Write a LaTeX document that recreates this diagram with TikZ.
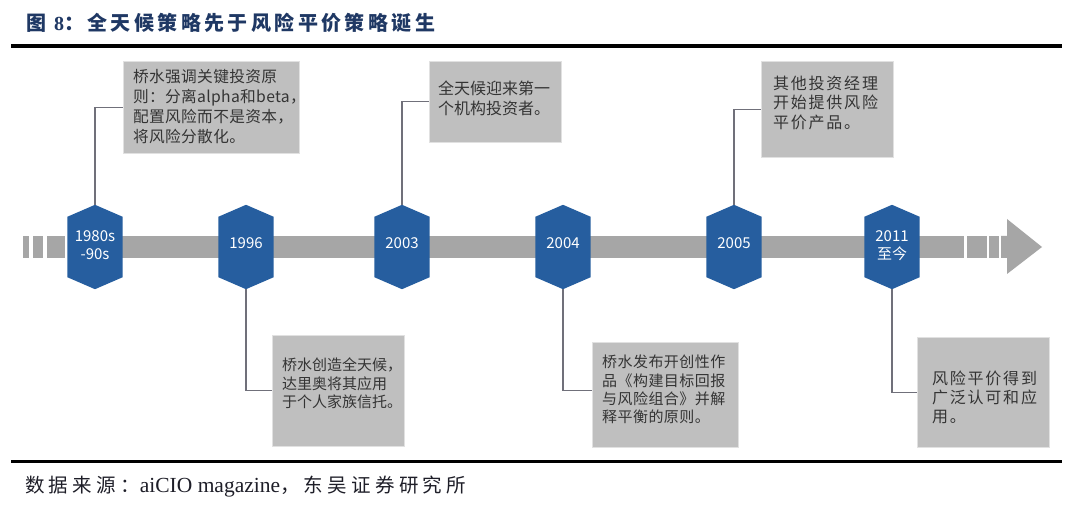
\documentclass[tikz,border=0pt]{standalone}
\usepackage{fontspec}
\setmainfont{Liberation Serif}
\newfontfamily\cjk{Noto Sans CJK SC}
\usetikzlibrary{calc}
\pgfdeclarelayer{bg}
\pgfsetlayers{bg,main}
\definecolor{titleblue}{RGB}{31,56,100}
\definecolor{hexblue}{RGB}{38,94,159}
\definecolor{bargray}{RGB}{166,166,166}
\definecolor{boxgray}{RGB}{191,191,191}
\definecolor{boxedge}{RGB}{225,225,225}
\definecolor{conngray}{RGB}{112,112,122}
\definecolor{txtgray}{RGB}{52,52,52}
\definecolor{srcgray}{RGB}{30,30,40}
\begin{document}
\begin{tikzpicture}[x=1pt,y=-1pt,
  hexnode/.style={rectangle,inner sep=0pt,minimum width=55pt,minimum height=84pt,
    text=white,align=center,font=\cjk\fontsize{15}{17.5}\selectfont},
  hexone/.style={hexnode,text height=11pt,text depth=8pt},
  hextwo/.style={hexnode,text height=30pt,text depth=5pt},
  infobox/.style={rectangle,fill=boxgray,draw=boxedge,line width=0.8pt,anchor=north west,inner sep=0pt},
  infotext/.style={anchor=north west,inner sep=0pt,align=left,text=txtgray},
  conn/.style={draw=conngray,line width=1.1pt}]
\useasboundingbox (0,0) rectangle (1080,510);

% title and rules
\node[anchor=west,inner sep=0pt,text=titleblue] (title) at (26,23)
  {\cjk\bfseries\fontsize{20}{22}\selectfont\addfontfeature{LetterSpace=17}图 {\rmfamily\bfseries 8}：全天候策略先于风险平价策略诞生};
\draw[line width=3.5pt] (11,46) -- (1062,46);
\draw[line width=3pt] (11,461.5) -- (1062,461.5);
\node[anchor=west,inner sep=0pt,text=srcgray] (src) at (25,487)
  {\cjk\fontsize{19.5}{22}\selectfont\addfontfeature{LetterSpace=22}数据来源：{\rmfamily\fontsize{21.5}{22}\selectfont aiCIO magazine}，东吴证券研究所};

% hexagon nodes
\node[hextwo] (h1) at (95,247) {1980s\\-90s};
\node[hexone] (h2) at (246,247) {1996};
\node[hexone] (h3) at (402,247) {2003};
\node[hexone] (h4) at (563,247) {2004};
\node[hexone] (h5) at (734,247) {2005};
\node[hextwo] (h6) at (892,247) {2011\\至今};

\begin{pgfonlayer}{bg}
  \fill[white] (0,0) rectangle (1080,510);
  \fill[bargray] (23,236) rectangle (29,258);
  \fill[bargray] (33,236) rectangle (43,258);
  \fill[bargray] (47,236) rectangle (65,258);
  \fill[bargray] (70,236) rectangle (964,258);
  \fill[bargray] (967,236) rectangle (987,258);
  \fill[bargray] (989,236) rectangle (999,258);
  \fill[bargray] (1001,236) -- (1007,236) -- (1007,219) -- (1042,247) -- (1007,274)
    -- (1007,258) -- (1001,258) -- cycle;
  \foreach \h in {h1,h2,h3,h4,h5,h6}
    \fill[hexblue] (\h.north) -- ([yshift=-12pt]\h.north east) -- ([yshift=12pt]\h.south east)
      -- (\h.south) -- ([yshift=12pt]\h.south west) -- ([yshift=-12pt]\h.north west) -- cycle;
\end{pgfonlayer}

% boxes
\node[infobox,minimum width=176pt,minimum height=92pt] (bA) at (123,61) {};
\node[infobox,minimum width=132pt,minimum height=81pt] (bB) at (429,61) {};
\node[infobox,minimum width=132pt,minimum height=96pt] (bC) at (761,61) {};
\node[infobox,minimum width=132pt,minimum height=111pt] (bD) at (272,335) {};
\node[infobox,minimum width=146pt,minimum height=105pt] (bE) at (592,342) {};
\node[infobox,minimum width=132pt,minimum height=110pt] (bF) at (917,337) {};

% box texts
\node[infotext,font=\cjk\fontsize{15.7}{20.3}\selectfont\addfontfeature{LetterSpace=2}] (tA) at (133,68.6)
  {桥水强调关键投资原\\则：分离alpha和beta，\\配置风险而不是资本，\\将风险分散化。};
\node[infotext,font=\cjk\fontsize{16}{20}\selectfont] (tB) at (438,80.6)
  {全天候迎来第一\\个机构投资者。};
\node[infotext,font=\cjk\fontsize{16}{19.5}\selectfont\addfontfeature{LetterSpace=11}] (tC) at (773,75.6)
  {其他投资经理\\开始提供风险\\平价产品。};
\node[infotext,font=\cjk\fontsize{15}{18.5}\selectfont] (tD) at (282,358)
  {桥水创造全天候，\\达里奥将其应用\\于个人家族信托。};
\node[infotext,font=\cjk\fontsize{15}{18.3}\selectfont\addfontfeature{LetterSpace=3}] (tE) at (602,355)
  {桥水发布开创性作\\品《构建目标回报\\与风险组合》并解\\释平衡的原则。};
\node[infotext,font=\cjk\fontsize{16}{19}\selectfont\addfontfeature{LetterSpace=11}] (tF) at (932,370.6)
  {风险平价得到\\广泛认可和应\\用。};

% connectors
\draw[conn] (h1.north) |- (bA.west);
\draw[conn] (h2.south) |- (bD.west);
\draw[conn] (h3.north) |- (bB.west);
\draw[conn] (h4.south) |- ([yshift=4.5pt]bE.west);
\draw[conn] (h5.north) |- (bC.west);
\draw[conn] (h6.south) |- (bF.west);
\end{tikzpicture}
\end{document}
